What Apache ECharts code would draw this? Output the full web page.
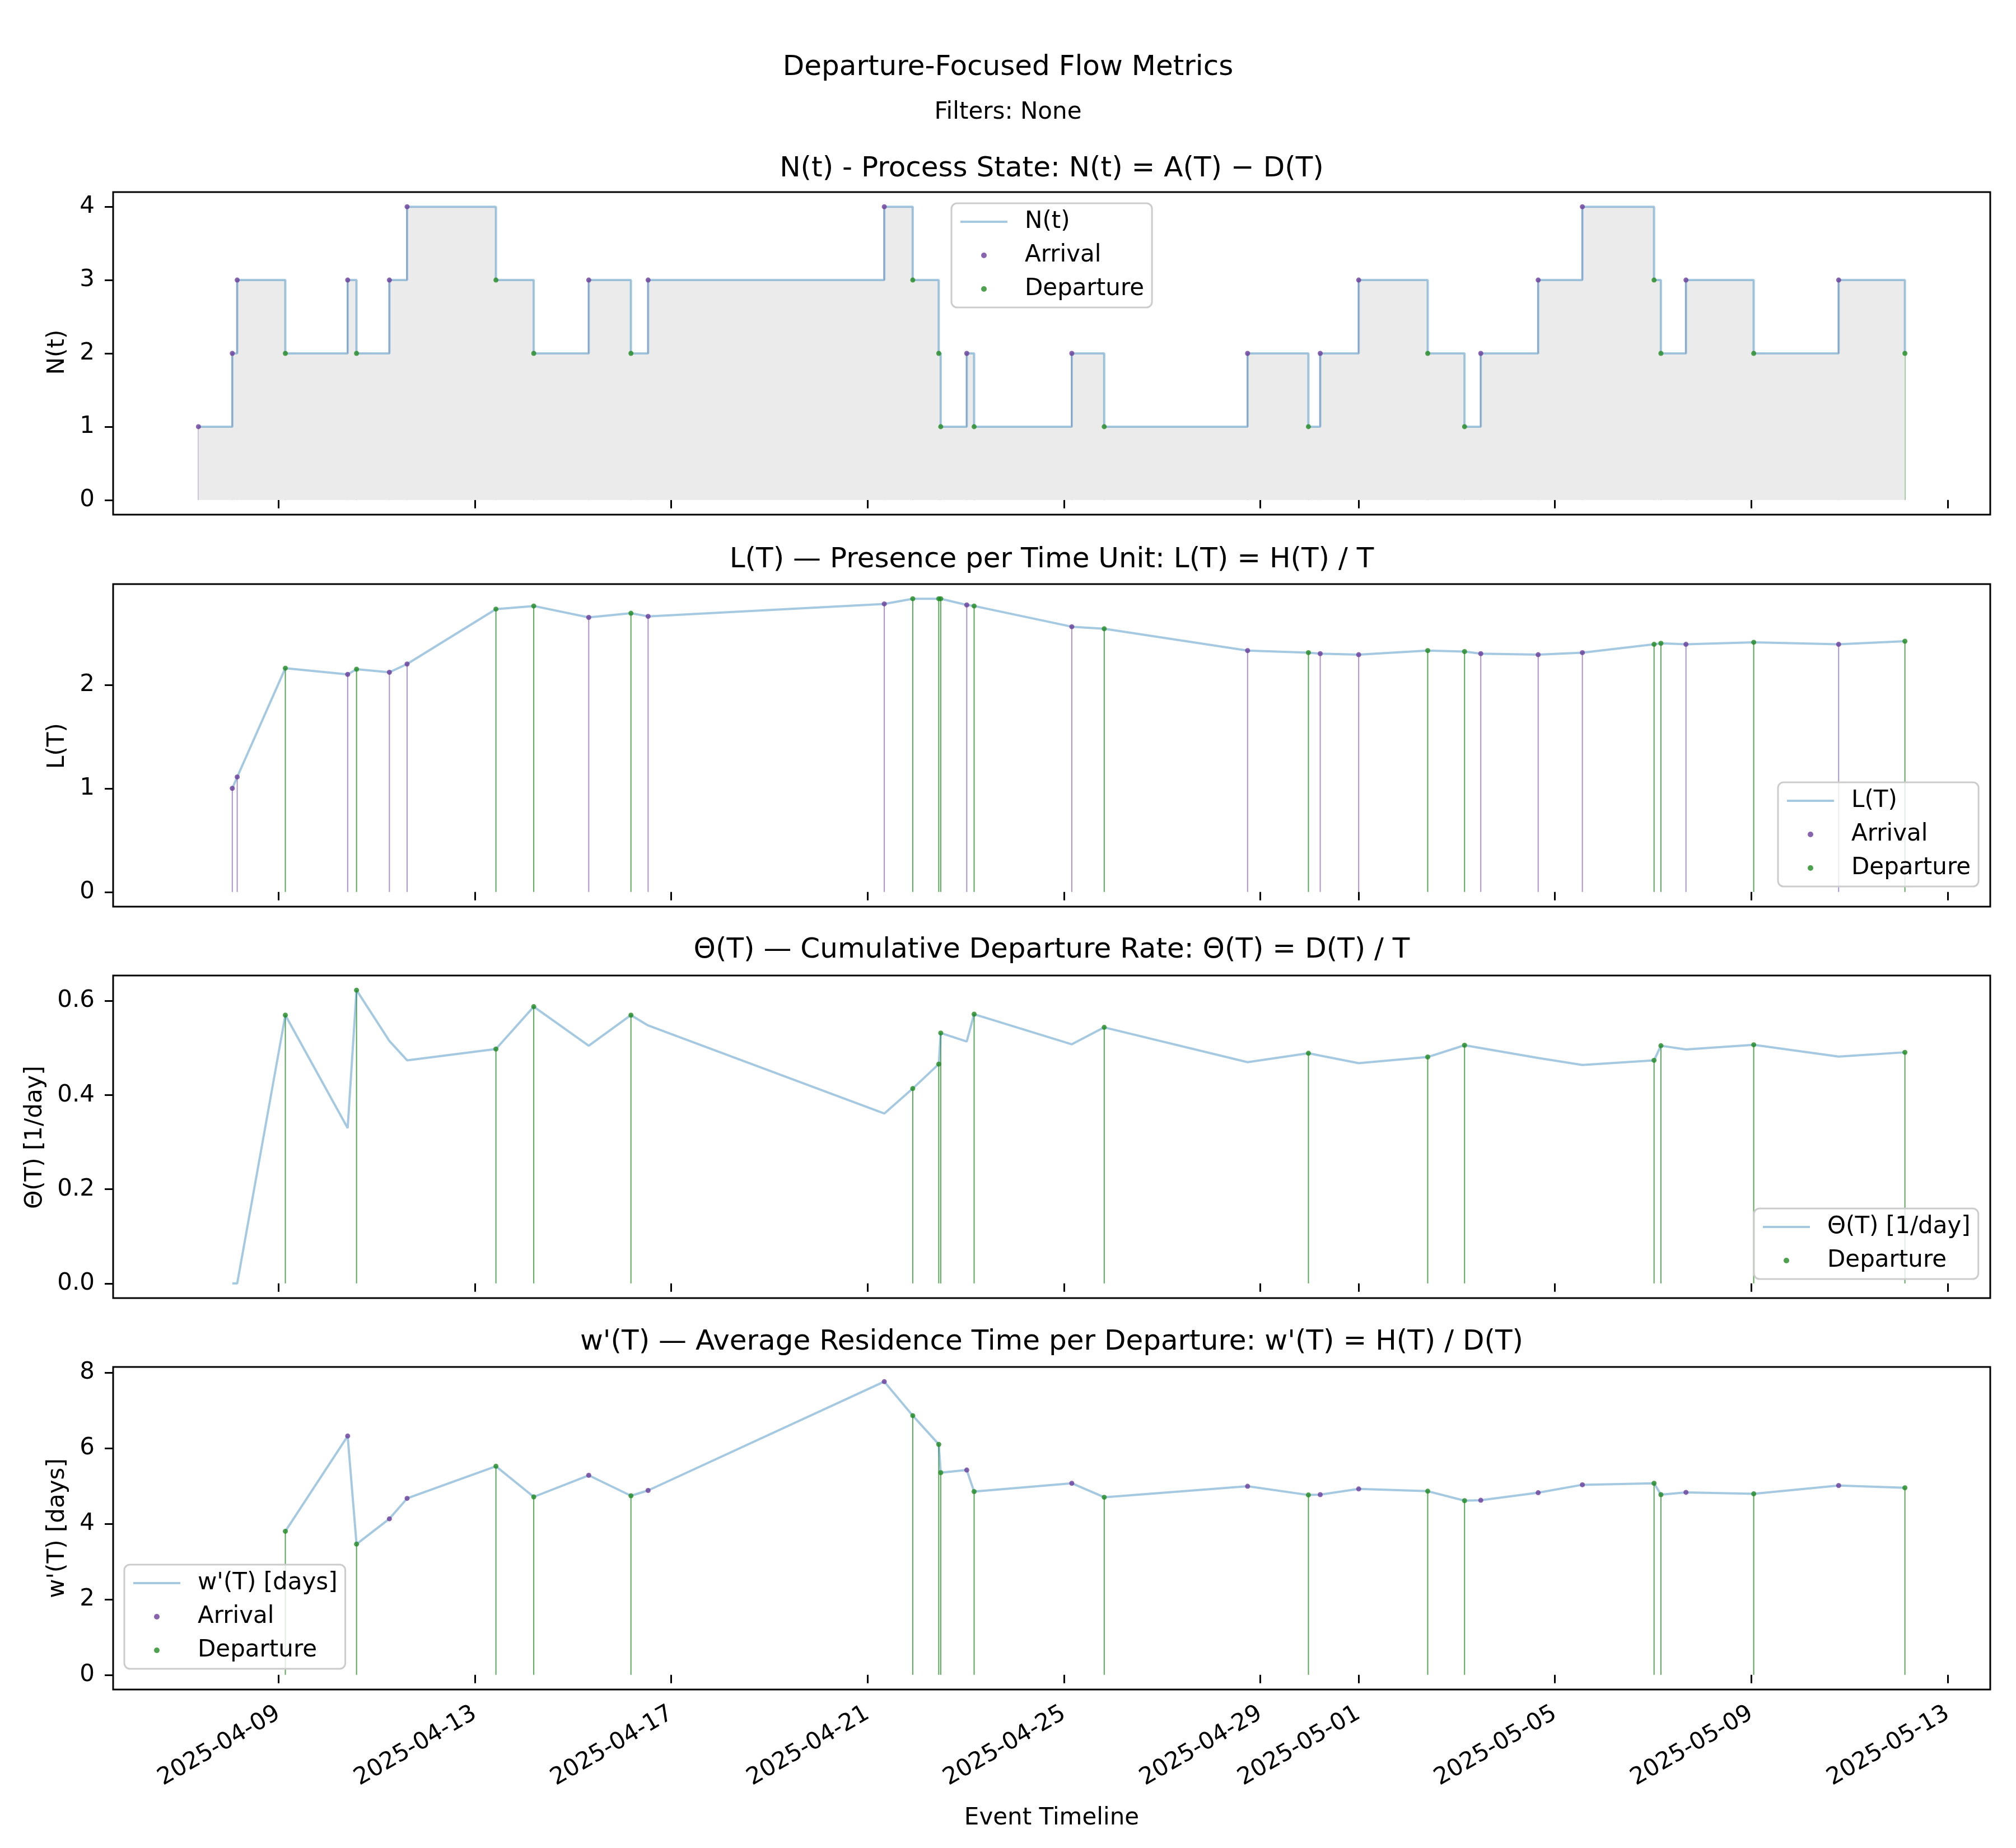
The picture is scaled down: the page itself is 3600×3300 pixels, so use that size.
<!DOCTYPE html>
<html>
<head>
<meta charset="utf-8">
<script src="https://cdn.jsdelivr.net/npm/echarts@6/dist/echarts.min.js"></script>
<style>
html,body{margin:0;padding:0;background:#fff;}
#chart{width:3600px;height:3300px;}
</style>
</head>
<body>
<div id="chart"></div>
<script>
// ---- data ----
const eventTimes = [
  '2025-04-07 08:53','2025-04-08 01:26','2025-04-08 03:50','2025-04-09 03:22',
  '2025-04-10 09:50','2025-04-10 14:10','2025-04-11 06:14','2025-04-11 14:53',
  '2025-04-13 10:19','2025-04-14 04:48','2025-04-15 07:41','2025-04-16 04:19',
  '2025-04-16 12:43','2025-04-21 08:10','2025-04-21 22:05','2025-04-22 10:48',
  '2025-04-22 11:46','2025-04-23 00:29','2025-04-23 04:05','2025-04-25 03:50',
  '2025-04-25 19:41','2025-04-28 17:46','2025-04-29 23:31','2025-04-30 05:17',
  '2025-05-01 00:05','2025-05-02 09:50','2025-05-03 03:50','2025-05-03 11:46',
  '2025-05-04 15:50','2025-05-05 13:26','2025-05-07 00:29','2025-05-07 03:50',
  '2025-05-07 16:05','2025-05-09 01:12','2025-05-10 18:43','2025-05-12 03:07'
];
const eventKinds = [
  'A','A','A','D','A','D','A','A','D','D','A','D','A','A','D','D','D','A',
  'D','A','D','A','D','A','A','D','D','A','A','A','D','D','A','D','A','D'
];
const nValues = [
  1,2,3,2,3,2,3,4,3,2,3,2,3,4,3,2,1,2,1,2,1,2,1,2,3,2,1,2,3,4,3,2,3,2,3,2
];
const lValues = [
  null,1.00,1.11,2.16,2.10,2.15,2.12,2.20,2.73,2.76,2.65,2.69,2.66,2.78,2.83,2.83,2.83,2.77,
  2.76,2.56,2.54,2.33,2.31,2.30,2.29,2.33,2.32,2.30,2.29,2.31,2.39,2.40,2.39,2.41,2.39,2.42
];
const thetaValues = [
  null,0.000,0.000,0.570,0.330,0.623,0.515,0.474,0.498,0.588,0.505,0.570,0.548,0.361,0.414,0.466,0.532,0.514,
  0.572,0.508,0.544,0.470,0.489,0.484,0.468,0.481,0.506,0.500,0.479,0.464,0.474,0.505,0.497,0.507,0.482,0.491
];
const wValues = [
  null,null,null,3.80,6.32,3.46,4.13,4.67,5.52,4.71,5.28,4.74,4.88,7.76,6.86,6.10,5.35,5.42,
  4.85,5.07,4.70,4.99,4.76,4.77,4.92,4.86,4.61,4.62,4.82,5.03,5.07,4.77,4.83,4.79,5.01,4.95
];
const xTickDates = ['2025-04-09','2025-04-13','2025-04-17','2025-04-21','2025-04-25',
                    '2025-04-29','2025-05-01','2025-05-05','2025-05-09','2025-05-13'];
const yTicksN = [0,1,2,3,4];
const yTicksL = [0,1,2];
const yTicksTheta = [0,0.2,0.4,0.6];
const yTicksW = [0,2,4,6,8];

// ---- helpers ----
const FONT = 'DejaVu Sans';
const ts = eventTimes.map(s => Date.parse(s.replace(' ', 'T') + ':00Z'));
const tickTs = xTickDates.map(s => Date.parse(s + 'T00:00:00Z'));
const span = ts[ts.length - 1] - ts[0];
const xMin = ts[0] - 0.05 * span, xMax = ts[ts.length - 1] + 0.05 * span;
const pad = n => (n < 10 ? '0' : '') + n;
const fmtDate = v => { const d = new Date(v); return d.getUTCFullYear() + '-' + pad(d.getUTCMonth() + 1) + '-' + pad(d.getUTCDate()); };

const LINE_COLOR = 'rgba(31,119,180,0.4)';
const ARR_COLOR = '#6a3d9a', DEP_COLOR = '#228b22';
const ARR_DROP = 'rgba(106,61,154,0.55)', DEP_DROP = 'rgba(34,139,34,0.75)';
const LINE_ICON = 'path://M0,0H84V4H0Z';

function pts(vals, kind) {
  const out = [];
  vals.forEach((v, i) => { if (v !== null && (!kind || eventKinds[i] === kind)) out.push([ts[i], v]); });
  return out;
}
function drops(vals, depOnly) {
  const out = [];
  vals.forEach((v, i) => {
    if (v === null) return;
    if (depOnly && eventKinds[i] !== 'D') return;
    out.push([ts[i], v, eventKinds[i] === 'A' ? 0 : 1]);
  });
  return out;
}
function maxOf(vals) { return Math.max.apply(null, vals.filter(v => v !== null)); }

const grids = [343, 1043, 1742, 2441].map(top => ({
  left: 202, right: 46, top: top, height: 576, show: true,
  borderColor: '#000', borderWidth: 3, backgroundColor: 'transparent'
}));

const xAxes = [0, 1, 2, 3].map(i => ({
  type: 'value', gridIndex: i, min: xMin, max: xMax,
  axisLine: { show: false }, splitLine: { show: false },
  axisTick: { show: true, customValues: tickTs, length: 15, lineStyle: { color: '#000', width: 3 } },
  axisLabel: {
    show: i === 3, customValues: tickTs, rotate: 30, formatter: fmtDate,
    fontSize: 42, fontFamily: FONT, color: '#000', margin: 40
  }
}));

function yAxis(i, vals, ticks, fmt) {
  const m = maxOf(vals);
  return {
    type: 'value', gridIndex: i, min: -0.05 * m, max: 1.05 * m,
    axisLine: { show: false }, splitLine: { show: false },
    axisTick: { show: true, customValues: ticks, length: 15, lineStyle: { color: '#000', width: 3 } },
    axisLabel: { customValues: ticks, fontSize: 42, fontFamily: FONT, color: '#000', margin: 33,
                 formatter: fmt || (v => String(v)) }
  };
}
const yAxes = [
  yAxis(0, nValues, yTicksN),
  yAxis(1, lValues, yTicksL),
  yAxis(2, thetaValues, yTicksTheta, v => v.toFixed(1)),
  yAxis(3, wValues, yTicksW)
];

function dropSeries(i, vals, depOnly) {
  return {
    type: 'custom', xAxisIndex: i, yAxisIndex: i, z: 2, silent: true,
    encode: { x: 0, y: 1 },
    data: drops(vals, depOnly),
    renderItem: function (params, api) {
      const x = api.value(0), y = api.value(1), k = api.value(2);
      const p0 = api.coord([x, 0]), p1 = api.coord([x, y]);
      return { type: 'line', shape: { x1: p0[0], y1: p0[1], x2: p1[0], y2: p1[1] },
               style: { stroke: k === 0 ? ARR_DROP : DEP_DROP, lineWidth: 2 } };
    }
  };
}
function lineSeries(i, name, vals, extra) {
  return Object.assign({
    type: 'line', name: name, xAxisIndex: i, yAxisIndex: i, z: 3,
    data: ts.map((t, j) => [t, vals[j]]),
    symbol: 'none', showSymbol: false,
    lineStyle: { color: LINE_COLOR, width: 4 }, itemStyle: { color: LINE_COLOR }
  }, extra || {});
}
function scatterSeries(i, name, vals, kind, color) {
  return { type: 'scatter', name: name, xAxisIndex: i, yAxisIndex: i, z: 4,
           data: pts(vals, kind), symbolSize: 9, itemStyle: { color: color } };
}

const series = [
  lineSeries(0, 'N(t)', nValues, { step: 'end', areaStyle: { color: '#ebebeb', opacity: 1 } }),
  dropSeries(0, nValues, false),
  scatterSeries(0, 'Arrival', nValues, 'A', ARR_COLOR),
  scatterSeries(0, 'Departure', nValues, 'D', DEP_COLOR),

  lineSeries(1, 'L(T)', lValues),
  dropSeries(1, lValues, false),
  scatterSeries(1, 'Arrival', lValues, 'A', ARR_COLOR),
  scatterSeries(1, 'Departure', lValues, 'D', DEP_COLOR),

  lineSeries(2, 'Θ(T) [1/day]', thetaValues),
  dropSeries(2, thetaValues, true),
  scatterSeries(2, 'Departure', thetaValues, 'D', DEP_COLOR),

  lineSeries(3, "w'(T) [days]", wValues),
  dropSeries(3, wValues, true),
  scatterSeries(3, 'Arrival', wValues, 'A', ARR_COLOR),
  scatterSeries(3, 'Departure', wValues, 'D', DEP_COLOR)
];

const legendBase = {
  orient: 'vertical', itemWidth: 84, itemHeight: 10, itemGap: 18,
  padding: [12, 14, 12, 16], selectedMode: false,
  textStyle: { fontSize: 42, fontFamily: FONT, color: '#000', padding: [0, 0, 0, 26] },
  backgroundColor: 'rgba(255,255,255,0.8)', borderColor: '#cccccc', borderWidth: 3, borderRadius: 10
};
const lineItem = name => ({ name: name, icon: LINE_ICON, itemStyle: { color: LINE_COLOR, borderWidth: 0 } });
const dotItem = (name, color) => ({ name: name, icon: 'circle', itemStyle: { color: color, borderWidth: 0 } });
const legends = [
  Object.assign({}, legendBase, { left: 1699, top: 363,
    data: [lineItem('N(t)'), dotItem('Arrival', ARR_COLOR), dotItem('Departure', DEP_COLOR)] }),
  Object.assign({}, legendBase, { left: 3175, top: 1397,
    data: [lineItem('L(T)'), dotItem('Arrival', ARR_COLOR), dotItem('Departure', DEP_COLOR)] }),
  Object.assign({}, legendBase, { left: 3132, top: 2158,
    data: [lineItem('Θ(T) [1/day]'), dotItem('Departure', DEP_COLOR)] }),
  Object.assign({}, legendBase, { left: 222, top: 2794,
    data: [lineItem("w'(T) [days]"), dotItem('Arrival', ARR_COLOR), dotItem('Departure', DEP_COLOR)] })
];

function txt(x, y, s, size, rot) {
  return { type: 'text', x: x, y: y, rotation: rot || 0, silent: true,
           style: { text: s, fontSize: size, fontFamily: FONT, fill: '#000',
                    textAlign: 'center', textVerticalAlign: 'middle' } };
}
const graphics = [
  txt(1800, 121, 'Departure-Focused Flow Metrics', 50),
  txt(1800, 201, 'Filters: None', 42),
  txt(1878, 302, 'N(t) - Process State: N(t) = A(T) \u2212 D(T)', 50),
  txt(1878, 1000, 'L(T) \u2014 Presence per Time Unit: L(T) = H(T) / T', 50),
  txt(1878, 1697, '\u0398(T) \u2014 Cumulative Departure Rate: \u0398(T) = D(T) / T', 50),
  txt(1878, 2397, "w'(T) \u2014 Average Residence Time per Departure: w'(T) = H(T) / D(T)", 50),
  txt(103, 629, 'N(t)', 42, Math.PI / 2),
  txt(103, 1332, 'L(T)', 42, Math.PI / 2),
  txt(63, 2031, '\u0398(T) [1/day]', 42, Math.PI / 2),
  txt(103, 2729, "w'(T) [days]", 42, Math.PI / 2),
  txt(1878, 3247, 'Event Timeline', 42)
];

const chart = echarts.init(document.getElementById('chart'), null, { renderer: 'canvas' });
chart.setOption({
  animation: false,
  backgroundColor: '#fff',
  grid: grids,
  xAxis: xAxes,
  yAxis: yAxes,
  legend: legends,
  series: series,
  graphic: graphics
});
</script>
</body>
</html>
